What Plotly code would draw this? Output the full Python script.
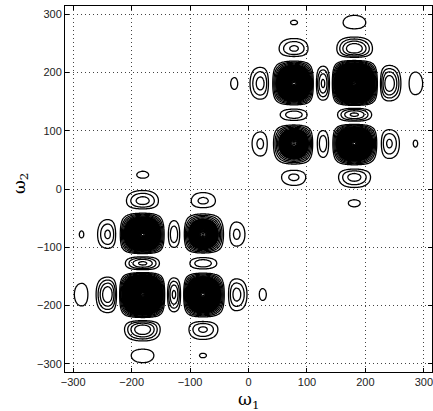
import numpy as np
import plotly.graph_objects as go

# ---- data ----
PEAK_FREQS = [80, 180]          # peak centres (same on both axes), cluster 1 at +, cluster 2 at -
PEAK_AMPS = [0.65, 1.0]         # relative peak strengths
LOBE_WIDTH = 44                 # first-zero offset of each peak's main lobe
TAPER = 170                     # envelope that damps far sidelobes
AXIS_TICKS = [-300, -200, -100, 0, 100, 200, 300]
AXIS_RANGE = [-314, 314]
OUTER_LEVELS = (0.06, 0.19, 0.035)  # sparse contour levels (start, end, step)
INNER_LEVELS = (0.20, 1.00, 0.007)  # dense contour levels inside the peaks

w = np.arange(-314, 315, 1.5)


def profile(u, sign):
    out = np.zeros_like(u)
    for f, a in zip(PEAK_FREQS, PEAK_AMPS):
        d = u - sign * f
        out += a * np.sinc(d / LOBE_WIDTH) * np.exp(-(d / TAPER) ** 2)
    return out


fp = profile(w, 1)
fn = profile(w, -1)
z = np.abs(np.outer(fp, fp)) + np.abs(np.outer(fn, fn))
z = z / z.max()

fig = go.Figure()
for lv in (OUTER_LEVELS, INNER_LEVELS):
    fig.add_trace(go.Contour(
        x=w, y=w, z=z,
        contours=dict(coloring="lines", start=lv[0], end=lv[1], size=lv[2]),
        colorscale=[[0, "black"], [1, "black"]],
        line=dict(width=1.3, smoothing=0.6),
        showscale=False, hoverinfo="skip",
    ))

axis_common = dict(
    range=AXIS_RANGE, tickvals=AXIS_TICKS, ticks="inside", ticklen=4,
    tickcolor="black", showline=True, linecolor="black", linewidth=1, mirror="ticks",
    showgrid=True, gridcolor="#444", griddash="1px,3px", gridwidth=1, zeroline=False,
    tickfont=dict(family="Liberation Sans, Arial, sans-serif", size=11, color="#222"),
    automargin=False,
)
fig.update_xaxes(**axis_common)
fig.update_yaxes(**axis_common)
title_font = dict(family="DejaVu Serif, serif", size=17, color="black")
fig.add_annotation(text="ω<sub>1</sub>", xref="paper", yref="paper", x=0.5, y=-0.077,
                   xanchor="center", yanchor="middle", showarrow=False, font=title_font)
fig.add_annotation(text="ω<sub>2</sub>", xref="paper", yref="paper", x=-0.123, y=0.516,
                   xanchor="center", yanchor="middle", showarrow=False, textangle=-90, font=title_font)
fig.update_layout(
    width=433, height=411,
    margin=dict(l=65, r=1, t=6, b=39),
    plot_bgcolor="white", paper_bgcolor="white",
    showlegend=False,
)
fig.write_html("out.html", config={"displayModeBar": False},
               post_script="document.body.style.margin='0';")
